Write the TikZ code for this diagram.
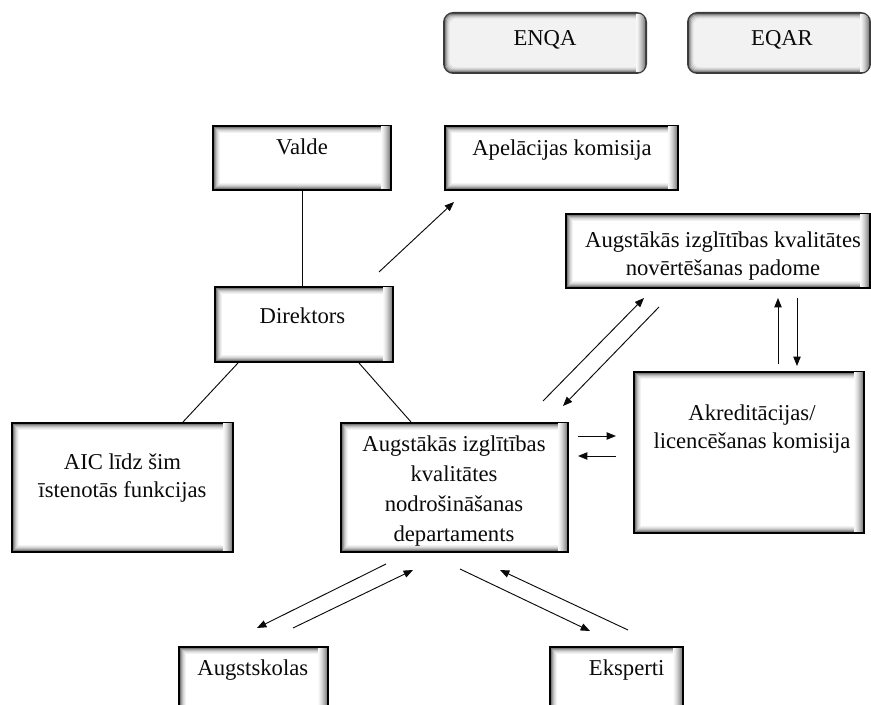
\documentclass[tikz,border=0pt]{standalone}
\usepackage{fontspec}
\setmainfont{Liberation Serif}
\usetikzlibrary{arrows.meta}
\definecolor{ink}{RGB}{10,10,10}
\definecolor{boxgray}{RGB}{242,242,242}
\definecolor{rimgray}{RGB}{60,60,60}

\begin{document}
\begin{tikzpicture}[
  x=.75pt,y=-.75pt,
  font=\fontsize{17}{21}\selectfont,
  orgbox/.style={draw=black,fill=white,line width=1.5pt,inner sep=0pt},
  extbox/.style={orgbox,draw=rimgray,fill=boxgray,rounded corners=7pt},
  txt/.style={align=center,inner sep=0pt,text=ink},
  flow/.style={-{Triangle[length=7pt,width=5.5pt]},draw=ink,line width=.7pt},
  link/.style={draw=ink,line width=.7pt}
]
\useasboundingbox (0,0) rectangle (871,705);

% European bodies.
\node[extbox,minimum width=151.5pt,minimum height=45pt] (enqa) at (545,43) {};
\node[extbox,minimum width=136.5pt,minimum height=45pt] (eqar) at (779,43) {};

% Upper row.
\node[orgbox,minimum width=133.5pt,minimum height=48pt] (valde) at (302,158) {};
\node[orgbox,minimum width=174.75pt,minimum height=48pt] (apel) at (561.5,158) {};
\node[orgbox,minimum width=228pt,minimum height=55.5pt] (padome) at (718,251) {};
\node[orgbox,minimum width=133.5pt,minimum height=56.25pt] (dir) at (304,324.5) {};

% Middle row.
\node[orgbox,minimum width=165.75pt,minimum height=96.75pt] (aic) at (122.5,487.5) {};
\node[orgbox,minimum width=170.25pt,minimum height=96.75pt] (dept) at (454.5,487.5) {};
\node[orgbox,minimum width=172.5pt,minimum height=120.75pt] (akred) at (749,452.5) {};

% Bottom row (cut by the page edge).
\node[orgbox,minimum width=111.75pt,minimum height=49.5pt] (augst) at (253.5,680) {};
\node[orgbox,minimum width=99.75pt,minimum height=49.5pt] (eksp) at (616.5,680) {};

% Inner shading along the rims, heavier on the right.
\foreach \n/\r in {valde/0pt,apel/0pt,padome/0pt,dir/0pt,aic/0pt,dept/0pt,
                   akred/0pt,augst/0pt,eksp/0pt,enqa/5pt,eqar/5pt}{
  \begin{scope}
    \clip[rounded corners=\r] ([shift={(1.5pt,1.5pt)}]\n.south west) rectangle
      ([shift={(-1.5pt,-1.5pt)}]\n.north east);
    \foreach \d/\c in {1/52,2/38,3/26,4/17,5/10,6/5}{
      \draw[black!\c,line width=.85pt,rounded corners=\r]
        ([shift={(\d*.75pt+.9pt,\d*.75pt+.9pt)}]\n.south west) rectangle
        ([shift={(-\d*.75pt-.9pt,-\d*.75pt-.9pt)}]\n.north east);}
    \foreach \d/\c in {1/45,2/38,3/31,4/25,5/19,6/14,7/9,8/5,9/2}{
      \draw[black!\c,line width=.85pt]
        ([xshift=-\d*.75pt-.9pt]\n.north east) --
        ([xshift=-\d*.75pt-.9pt]\n.south east);}
  \end{scope}}

% Texts.
\node[txt] (enqa-t) at (545,39.5) {ENQA};
\node[txt] (eqar-t) at (782,39.5) {EQAR};
\node[txt] (valde-t) at (302,147) {Valde};
\node[txt] (apel-t) at (562,150) {Apelācijas komisija};
\node[txt] (padome-t) at (723,255.7)
  {Augstākās izglītības kvalitātes\\novērtēšanas padome};
\node[txt] (dir-t) at (302.5,315.5) {Direktors};
\node[txt] (aic-t) at (122.5,478) {AIC līdz šim\\īstenotās funkcijas};
\node[txt,font=\fontsize{17}{22.5}\selectfont] (dept-t) at (454,491.5)
  {Augstākās izglītības\\kvalitātes\\nodrošināšanas\\departaments};
\node[txt] (akred-t) at (752,428.7) {Akreditācijas/\\licencēšanas komisija};
\node[txt] (augst-t) at (252.8,669.8) {Augstskolas};
\node[txt] (eksp-t) at (626.7,669.8) {Eksperti};

% Plain links.
\draw[link] (valde.south) -- (valde.south |- dir.north);
\draw[link] ([shift={(24,0)}]dir.south west) -- ([shift={(-51,0)}]aic.north east);
\draw[link] ([shift={(-35,0)}]dir.south east) -- ([shift={(71,0)}]dept.north west);

% Arrows.
\draw[flow] ([shift={(75,-14)}]dir.north) -- ([shift={(10,11)}]apel.south west);
\draw[flow] ([shift={(-26,-21)}]dept.north east) -- ([shift={(79,9)}]padome.south west);
\draw[flow] ([shift={(94,18)}]padome.south west) -- ([shift={(-6,-16)}]dept.north east);
\draw[flow] ([shift={(29,-7)}]akred.north) -- ([shift={(60,9)}]padome.south);
\draw[flow] ([shift={(79,9)}]padome.south) -- ([shift={(48,-5)}]akred.north);
\draw[flow] ([shift={(9,14)}]dept.north east) -- ([shift={(-17,65)}]akred.north west);
\draw[flow] ([shift={(-17,85)}]akred.north west) -- ([shift={(9,34)}]dept.north east);
\draw[flow] ([shift={(-68.5,11)}]dept.south) -- ([shift={(3.5,-18)}]augst.north);
\draw[flow] ([shift={(39.5,-18)}]augst.north) -- ([shift={(-41.5,17)}]dept.south);
\draw[flow] ([shift={(5.5,16)}]dept.south) -- ([shift={(-26.5,-15)}]eksp.north);
\draw[flow] ([shift={(11.5,-16)}]eksp.north) -- ([shift={(45.5,17)}]dept.south);

\end{tikzpicture}
\end{document}
